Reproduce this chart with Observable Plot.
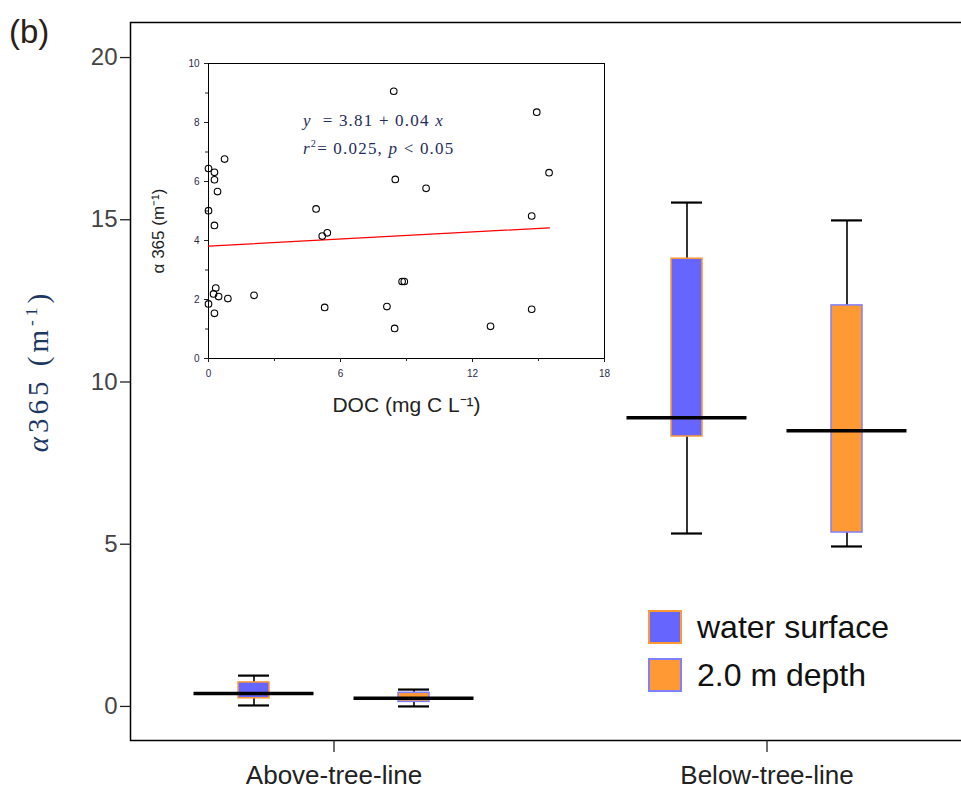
<!DOCTYPE html>
<html>
<head>
<meta charset="utf-8">
<script src="https://cdn.jsdelivr.net/npm/d3@7"></script>
<script src="https://cdn.jsdelivr.net/npm/@observablehq/plot@0.6"></script>
<style>
  body { margin: 0; background: white; }
  #wrap { position: relative; width: 961px; height: 793px; overflow: hidden; font-family: "Liberation Sans", Arial, sans-serif; }
  #wrap svg { position: absolute; }
  .ov { position: absolute; white-space: nowrap; line-height: 1; }
</style>
</head>
<body>
<div id="wrap"></div>
<script>
// ---- main chart data ----
const categories = ["Above-tree-line", "Below-tree-line"];
const seriesNames = ["water surface", "2.0 m depth"];
const surfaceMin    = [0.03, 5.33];
const surfaceQ1     = [0.25, 8.32];
const surfaceMedian = [0.40, 8.90];
const surfaceQ3     = [0.74, 13.80];
const surfaceMax    = [0.95, 15.53];
const depthMin      = [0.00, 4.93];
const depthQ1       = [0.14, 5.36];
const depthMedian   = [0.25, 8.50];
const depthQ3       = [0.42, 12.36];
const depthMax      = [0.52, 14.98];
const yTicks = [0, 5, 10, 15, 20];

// ---- inset data ----
const docX = [8.42, 14.92, 0.73, 0.00, 0.27, 0.27, 15.48, 8.49, 9.89, 0.41, 0.00, 4.89, 14.69, 0.27, 5.17, 5.40, 8.90, 8.80, 0.33, 0.23, 0.46, 0.88, 2.07, 0.00, 0.27, 5.28, 8.11, 14.69, 8.46, 12.82];
const a365Y = [9.06, 8.35, 6.76, 6.44, 6.31, 6.06, 6.30, 6.07, 5.77, 5.66, 5.01, 5.07, 4.83, 4.51, 4.15, 4.26, 2.61, 2.61, 2.39, 2.19, 2.10, 2.03, 2.14, 1.85, 1.53, 1.73, 1.76, 1.67, 1.02, 1.09];
const fitX = [0, 15.5];
const fitY = [3.81, 4.43];
const insetXTicks = [0, 6, 12, 18];
const insetXMinor = [3, 9, 15];
const insetYTicks = [0, 2, 4, 6, 8, 10];
const insetYMinor = [1, 3, 5, 7, 9];

const BLUE = "#6666ff", ORANGE = "#ff9933";
const wrap = document.getElementById("wrap");

// ---- main plot ----
const bw = 433;            // band width (range / 2)
const off = 80;            // series offset from category centre
const idx = d3.range(categories.length);
const X = i => categories[i];

function boxMarks(mn, q1, md, q3, mx, dx, fill, stroke, sw) {
  const capW = 31, boxW = 31, medW = 120;
  return [
    Plot.ruleX(idx, {x: X, y1: i => mn[i], y2: i => mx[i], dx, stroke: "black", strokeWidth: 1.6}),
    Plot.tickY(idx, {x: X, y: i => mx[i], dx, insetLeft: (bw - capW) / 2, insetRight: (bw - capW) / 2, stroke: "black", strokeWidth: 2.2}),
    Plot.tickY(idx, {x: X, y: i => mn[i], dx, insetLeft: (bw - capW) / 2, insetRight: (bw - capW) / 2, stroke: "black", strokeWidth: 2.2}),
    Plot.barY(idx, {x: X, y1: i => q1[i], y2: i => q3[i], dx, insetLeft: (bw - boxW) / 2, insetRight: (bw - boxW) / 2, fill, stroke, strokeWidth: sw}),
    Plot.tickY(idx, {x: X, y: i => md[i], dx, insetLeft: (bw - medW) / 2, insetRight: (bw - medW) / 2, stroke: "black", strokeWidth: 3.5})
  ];
}

const main = Plot.plot({
  width: 961,
  height: 793,
  marginLeft: 130,
  marginRight: -4,
  marginTop: 22,
  marginBottom: 53,
  style: {fontFamily: "Liberation Sans, Arial, sans-serif", background: "transparent", overflow: "hidden", color: "#333"},
  x: {type: "band", domain: categories, range: [116.5, 982.5], padding: 0},
  y: {domain: [-1.05, 21.08]},
  marks: [
    Plot.frame({stroke: "black", strokeWidth: 1.5}),
    Plot.axisY({ticks: yTicks, tickSize: 10, tickPadding: 3, fontSize: 24, label: null, stroke: "#222", strokeWidth: 1.3, fill: "#444"}),
    Plot.axisX({tickSize: 12, tickPadding: 13, fontSize: 26, label: null, stroke: "#222", strokeWidth: 1.3, fill: "#222"}),
    ...boxMarks(surfaceMin, surfaceQ1, surfaceMedian, surfaceQ3, surfaceMax, -off, BLUE, ORANGE, 1.5),
    ...boxMarks(depthMin, depthQ1, depthMedian, depthQ3, depthMax, off, ORANGE, "#8080ff", 1.5)
  ]
});
main.style.left = "0px";
main.style.top = "0px";
wrap.appendChild(main);

// ---- inset plot ----
const inset = Plot.plot({
  width: 480,
  height: 385,
  marginLeft: 68,
  marginRight: 16,
  marginTop: 18,
  marginBottom: 72,
  style: {fontFamily: "Liberation Sans, Arial, sans-serif", background: "transparent", color: "#222"},
  x: {domain: [0, 18]},
  y: {domain: [0, 10]},
  marks: [
    Plot.frame({stroke: "black", strokeWidth: 1}),
    Plot.axisX({ticks: insetXTicks, tickSize: 4, tickPadding: 7, fontSize: 10, label: null, fill: "#2a2a4a"}),
    Plot.axisX({ticks: insetXMinor, tickSize: 3, tickFormat: () => "", label: null}),
    Plot.axisY({ticks: insetYTicks, tickSize: 4, tickPadding: 5, fontSize: 10, label: null, fill: "#2a2a4a"}),
    Plot.axisY({ticks: insetYMinor, tickSize: 3, tickFormat: () => "", label: null}),
    Plot.line(d3.range(fitX.length), {x: i => fitX[i], y: i => fitY[i], stroke: "red", strokeWidth: 1.2}),
    Plot.dot(d3.range(docX.length), {x: i => docX[i], y: i => a365Y[i], r: 3.3, stroke: "black", strokeWidth: 1.1, fill: "none"}),
    Plot.text(["DOC (mg C L\u207B\u00B9)"], {frameAnchor: "bottom", dy: 53, fontSize: 21, fill: "#222"}),
    Plot.text(["\u03B1 365 (m\u207B\u00B9)"], {frameAnchor: "left", textAnchor: "middle", dx: -50, dy: 20, rotate: -90, fontSize: 17, fill: "#222"})
  ]
});
inset.style.left = "140px";
inset.style.top = "45px";
wrap.appendChild(inset);

// ---- overlays (text) ----
function ov(html, css) {
  const d = document.createElement("div");
  d.className = "ov";
  d.innerHTML = html;
  Object.assign(d.style, css);
  wrap.appendChild(d);
  return d;
}
ov("(b)", {left: "9px", top: "15px", fontSize: "33px", color: "#2a2018"});
ov("<i>\u03B1</i>365 (m<sup style='font-size:0.6em'>-1</sup>)", {
  left: "38px", top: "371px", fontFamily: "Liberation Serif, Times New Roman, serif", fontSize: "29px",
  color: "#1d3763", letterSpacing: "4px", transform: "translate(-50%,-50%) rotate(-90deg)"
});
ov("<i>y</i>&nbsp; = 3.81 + 0.04 <i>x</i>", {left: "303px", top: "112px", fontFamily: "Liberation Serif, Times New Roman, serif", fontSize: "17px", color: "#1f2d5a", letterSpacing: "1.2px"});
ov("<i>r</i><sup style='font-size:0.6em'>2</sup>= 0.025, <i>p</i> &lt; 0.05", {left: "303px", top: "139px", fontFamily: "Liberation Serif, Times New Roman, serif", fontSize: "17px", color: "#1f2d5a", letterSpacing: "1.2px"});

// legend
const legend = [
  {name: seriesNames[0], fill: BLUE, stroke: ORANGE, top: 610},
  {name: seriesNames[1], fill: ORANGE, stroke: "#8080ff", top: 658}
];
legend.forEach(l => {
  ov("", {left: "648px", top: l.top + "px", width: "30px", height: "30px", background: l.fill, border: "2px solid " + l.stroke});
  ov(l.name, {left: "697px", top: (l.top + 1) + "px", fontSize: "32px", color: "#111"});
});
</script>
</body>
</html>
